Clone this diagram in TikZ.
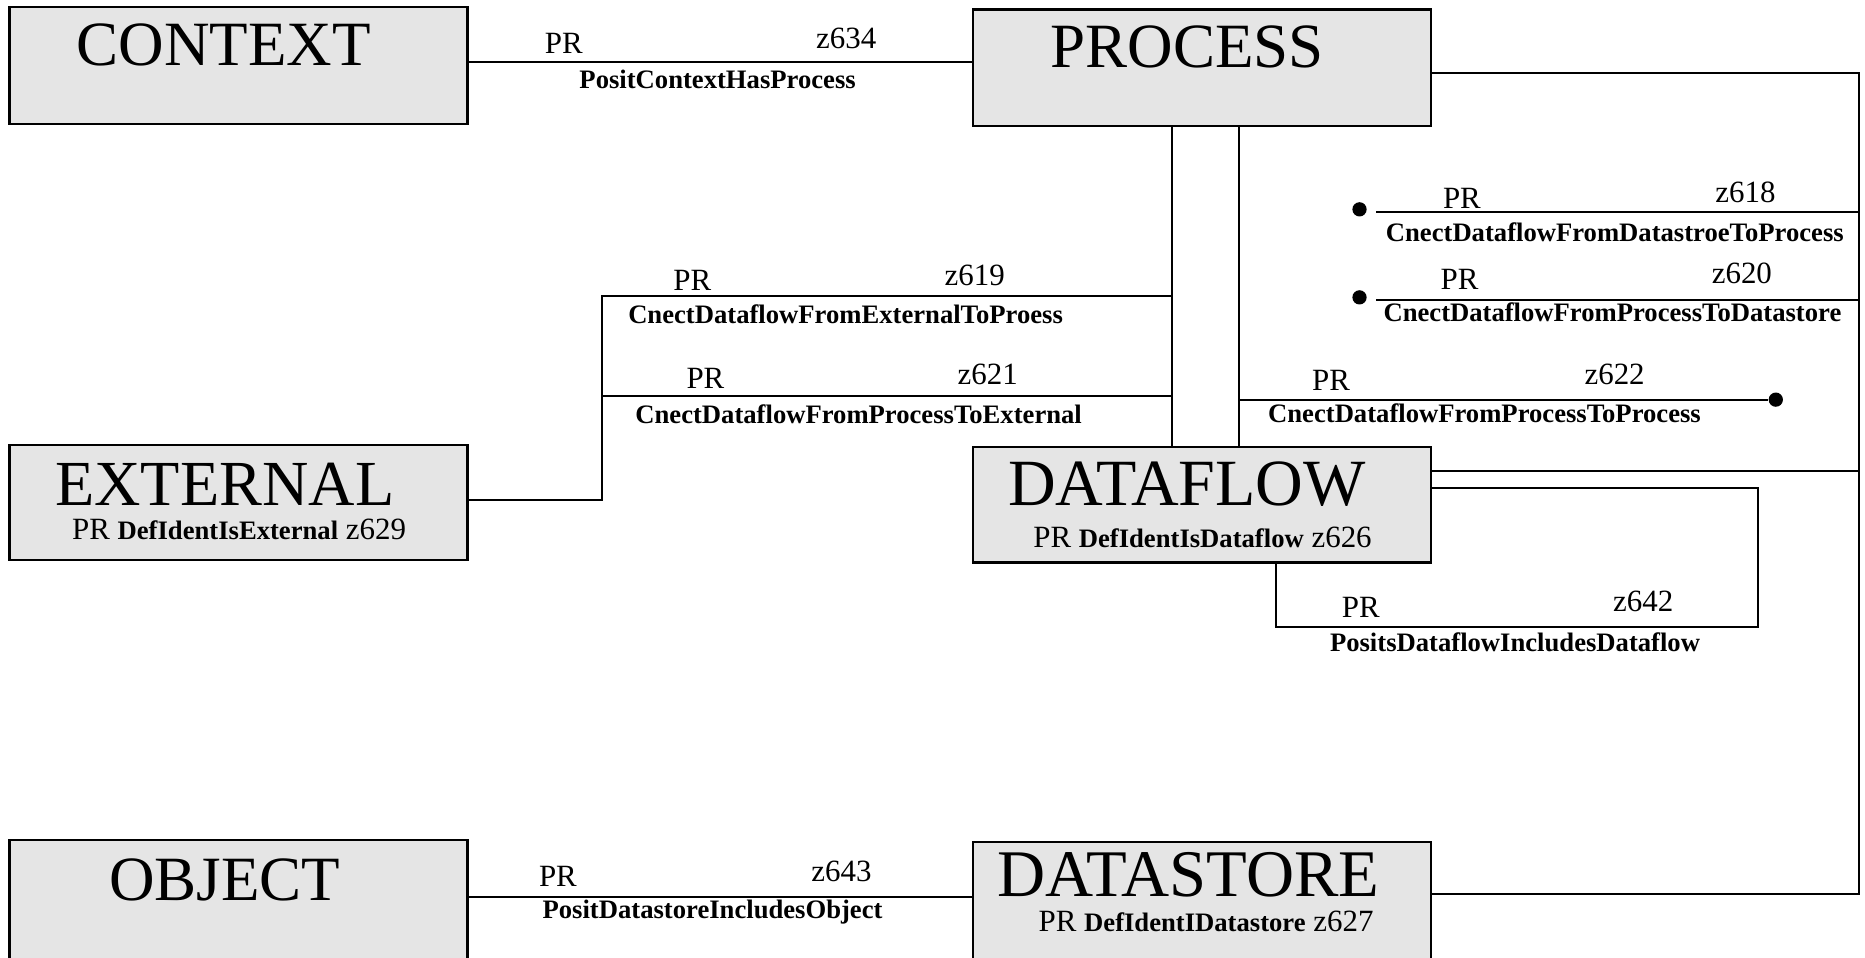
\documentclass[tikz,border=0pt]{standalone}
\usepackage{fontspec}
\setmainfont{Liberation Serif}
\begin{document}
\begin{tikzpicture}[x=1pt,y=-1pt,
  box/.style={draw, line width=1.9pt, fill=gray!20, inner sep=0pt, outer sep=0pt, anchor=north west, minimum width=385pt},
  ttl/.style={font=\fontsize{53}{60}\selectfont, anchor=base, inner sep=0pt},
  sub/.style={font=\fontsize{26}{30}\selectfont, anchor=base, inner sep=0pt},
  lbl/.style={font=\fontsize{26}{30}\selectfont, anchor=base west, inner sep=0pt},
  rel/.style={font=\bfseries\fontsize{22.4}{26}\selectfont, anchor=base west, inner sep=0pt},
  conn/.style={line width=1.75pt},
  dot/.style={circle, fill=black, inner sep=0pt, minimum size=12pt}]
\useasboundingbox (0,0) rectangle (1568,805);

% boxes
\node[box, minimum height=98pt] (ctx) at (8,6) {};
\node[box, minimum height=98pt] (proc) at (818,8) {};
\node[box, minimum height=97pt] (ext) at (8,374) {};
\node[box, minimum height=97pt] (df) at (818,376) {};
\node[box, minimum height=115pt] (obj) at (8,706) {};
\node[box, minimum height=115pt] (ds) at (818,708) {};

% titles
\node[ttl] (tctx) at (188,55) {CONTEXT};
\node[ttl] (tproc) at (998,57) {PROCESS};
\node[ttl, font=\fontsize{54}{60}\selectfont] (text) at (189,425) {EXTERNAL};
\node[ttl, font=\fontsize{55.5}{60}\selectfont] (tdf) at (998,425) {DATAFLOW};
\node[ttl] (tobj) at (189,757) {OBJECT};
\node[ttl, font=\fontsize{56}{60}\selectfont] (tds) at (999,754) {DATASTORE};
\node[sub] (sext) at (201,454) {PR {\bfseries\fontsize{22.4}{26}\selectfont DefIdentIsExternal} z629};
\node[sub] (sdf) at (1011,460) {PR {\bfseries\fontsize{22.4}{26}\selectfont DefIdentIsDataflow} z626};
\node[sub] (sds) at (1014,783) {PR {\bfseries\fontsize{22.4}{26}\selectfont DefIdentIDatastore} z627};

% coordinates
\coordinate (cp) at (600,52);
\coordinate (od) at (600,754);
\coordinate (spTop) at (1563,61);
\coordinate (spBot) at (1563,752);
\coordinate (dfR) at (1563,396);
\coordinate (lpTR) at (1478,410);
\coordinate (lpBL) at (1073,527);
\coordinate (vA) at (985,200);
\coordinate (vB) at (1042,200);
\coordinate (e619) at (506,249);
\coordinate (e621) at (506,333);
\coordinate (eExt) at (506,420);
\coordinate (a618) at (1157,178);
\coordinate (a620) at (1157,252);

% connectors
\draw[conn] (cp -| ctx.east) -- (cp -| proc.west);
\draw[conn] (od -| obj.east) -- (od -| ds.west);
\draw[conn] (spTop -| proc.east) -- (spTop) -- (spBot) -- (spBot -| ds.east);
\draw[conn] (dfR -| df.east) -- (dfR);
\draw[conn] (lpTR -| df.east) -- (lpTR) |- (lpBL) -- (lpBL |- df.south);
\draw[conn] (vA |- proc.south) -- (vA |- df.north);
\draw[conn] (vB |- proc.south) -- (vB |- df.north);
\draw[conn] (eExt -| ext.east) -- (eExt) -- (e619) -- (e619 -| vA);
\draw[conn] (e621) -- (e621 -| vA);
\node[dot] (d618) at (1143,176) {};
\node[dot] (d620) at (1143,250) {};
\node[dot] (d622) at (1493,336) {};
\draw[conn] (a618) -- (a618 -| spTop);
\draw[conn] (a620) -- (a620 -| spTop);
\draw[conn] (d622 -| vB) -- (d622);

% labels
\node[lbl] (p634) at (458,45) {PR};
\node[lbl] (z634) at (686,41) {z634};
\node[rel] (r634) at (487,74) {PositContextHasProcess};
\node[lbl] (p619) at (566,244) {PR};
\node[lbl] (z619) at (794,240) {z619};
\node[rel] (r619) at (528,272) {CnectDataflowFromExternalToProess};
\node[lbl] (p621) at (577,327) {PR};
\node[lbl] (z621) at (805,323) {z621};
\node[rel] (r621) at (534,356) {CnectDataflowFromProcessToExternal};
\node[lbl] (p622) at (1103,328) {PR};
\node[lbl] (z622) at (1332,323) {z622};
\node[rel] (r622) at (1066,355) {CnectDataflowFromProcessToProcess};
\node[lbl] (p618) at (1213,175) {PR};
\node[lbl] (z618) at (1442,170) {z618};
\node[rel] (r618) at (1165,203) {CnectDataflowFromDatastroeToProcess};
\node[lbl] (p620) at (1211,243) {PR};
\node[lbl] (z620) at (1439,238) {z620};
\node[rel] (r620) at (1163,270) {CnectDataflowFromProcessToDatastore};
\node[lbl] (p642) at (1128,519) {PR};
\node[lbl] (z642) at (1356,514) {z642};
\node[rel] (r642) at (1118,548) {PositsDataflowIncludesDataflow};
\node[lbl] (p643) at (453,745) {PR};
\node[lbl] (z643) at (682,741) {z643};
\node[rel] (r643) at (456,772) {PositDatastoreIncludesObject};
\end{tikzpicture}
\end{document}
